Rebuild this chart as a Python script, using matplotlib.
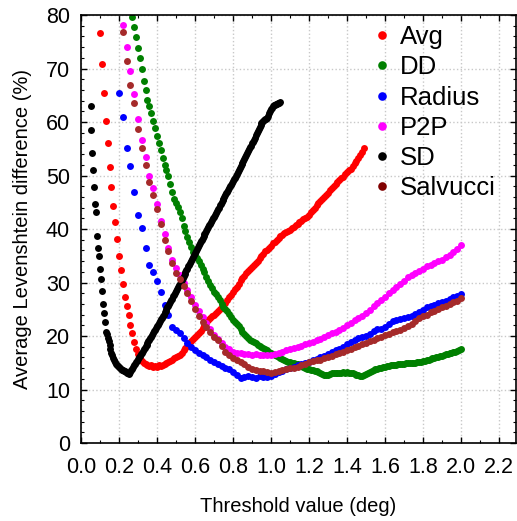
import numpy as np
import matplotlib
matplotlib.use("Agg")
import matplotlib.pyplot as plt
from matplotlib.lines import Line2D
from matplotlib.ticker import MultipleLocator

plt.rcParams['font.family'] = ['Liberation Sans', 'DejaVu Sans']

# Average Levenshtein difference (%) per threshold (deg)
avg_start, avg_step = 0.10, 0.01
avg_y = [76.6, 70.8, 65.5, 60.1, 56.0, 51.6, 47.9, 44.3, 41.3, 38.1,
         35.0, 32.3, 29.7, 27.2, 25.6, 23.9, 22.1, 20.5, 18.9, 17.6,
         16.6, 15.9, 15.4, 15.0, 14.7, 14.6, 14.4, 14.5, 14.3, 14.4,
         14.3, 14.5, 14.4, 14.6, 14.8, 15.0, 15.2, 15.4, 15.6, 15.8,
         16.0, 16.2, 16.5, 16.9, 17.3, 17.7, 18.1, 18.6, 19.0, 19.4,
         19.8, 20.2, 20.6, 21.0, 21.5, 22.0, 22.5, 23.0, 23.4, 23.7,
         24.0, 24.3, 24.6, 25.0, 25.4, 25.8, 26.2, 26.7, 27.2, 27.7,
         28.2, 28.7, 29.2, 29.8, 30.4, 30.9, 31.3, 31.7, 32.1, 32.5,
         32.9, 33.3, 33.7, 34.1, 34.5, 34.9, 35.4, 35.8, 36.1, 36.5,
         36.9, 37.3, 37.6, 37.9, 38.3, 38.6, 38.9, 39.2, 39.4, 39.7,
         39.9, 40.2, 40.4, 40.7, 41.0, 41.3, 41.5, 41.8, 42.0, 42.3,
         42.7, 43.1, 43.5, 44.0, 44.4, 44.8, 45.3, 45.7, 46.0, 46.4,
         46.8, 47.2, 47.6, 48.0, 48.4, 48.8, 49.1, 49.5, 49.8, 50.2,
         50.6, 51.0, 51.3, 51.8, 52.3, 52.8, 53.3, 53.8, 54.4, 55.1]

dd_start, dd_step = 0.27, 0.01
dd_y = [79.7, 77.7, 75.8, 73.9, 71.9, 69.9, 67.7, 66.0, 64.2, 63.0,
        61.6, 60.1, 58.8, 57.4, 56.0, 54.8, 53.3, 52.0, 51.0, 49.9,
        48.4, 47.0, 45.7, 44.9, 44.1, 43.2, 42.0, 40.6, 39.6, 38.5,
        37.5, 36.6, 35.7, 35.2, 34.6, 34.0, 33.2, 32.6, 32.0, 31.0,
        30.3, 29.6, 28.9, 28.3, 27.8, 27.3, 26.8, 26.0, 25.5, 25.0,
        24.6, 24.2, 23.6, 23.0, 22.6, 22.2, 21.9, 21.4, 20.8, 20.4,
        20.0, 19.6, 19.3, 19.1, 18.9, 18.6, 18.4, 18.2, 18.0, 17.8,
        17.5, 17.3, 17.1, 16.9, 16.7, 16.5, 16.3, 16.1, 15.9, 15.7,
        15.6, 15.4, 15.2, 15.1, 15.0, 14.9, 14.8, 14.7, 14.6, 14.4,
        14.3, 14.1, 13.9, 13.8, 13.7, 13.6, 13.5, 13.4, 13.2, 13.0,
        12.9, 12.8, 12.7, 12.8, 12.9, 13.0, 13.0, 13.1, 13.0, 13.0,
        13.1, 13.2, 13.1, 13.2, 13.1, 13.0, 13.0, 12.9, 12.8, 12.7,
        12.6, 12.6, 12.7, 12.9, 13.1, 13.3, 13.5, 13.6, 13.8, 13.9,
        14.0, 14.1, 14.2, 14.3, 14.4, 14.4, 14.5, 14.5, 14.6, 14.6,
        14.7, 14.7, 14.8, 14.8, 14.9, 14.9, 14.9, 15.0, 14.9, 15.0,
        15.1, 15.1, 15.2, 15.3, 15.4, 15.5, 15.6, 15.7, 15.8, 15.9,
        16.0, 16.1, 16.2, 16.3, 16.5, 16.6, 16.7, 16.8, 16.9, 17.0,
        17.1, 17.2, 17.4, 17.5]

radius_start, radius_step = 0.20, 0.02
radius_y = [65.4, 60.9, 55.1, 51.8, 47.0, 42.6, 40.2, 36.4, 33.3, 32.0,
            30.2, 28.3, 25.8, 23.9, 21.7, 21.2, 20.6, 19.6, 18.6, 17.9,
            17.4, 16.8, 16.4, 16.1, 15.6, 15.2, 14.8, 14.4, 14.1, 13.8,
            13.3, 12.7, 12.1, 12.3, 12.6, 12.4, 12.2, 12.5, 12.3, 12.4,
            12.6, 12.9, 13.2, 13.5, 13.8, 14.0, 14.2, 14.5, 14.7, 14.9,
            15.2, 15.5, 15.7, 16.0, 16.3, 16.6, 17.0, 17.3, 17.6, 18.0,
            18.5, 18.9, 19.3, 19.6, 19.8, 20.0, 20.4, 20.9, 21.3, 21.4,
            21.6, 22.3, 22.8, 23.0, 23.2, 23.4, 23.6, 23.8, 24.1, 24.4,
            24.9, 25.4, 25.6, 25.8, 26.1, 26.4, 26.6, 26.9, 27.2, 27.5,
            27.9]

p2p_start, p2p_step = 0.22, 0.02
p2p_y = [78.1, 74.1, 69.6, 65.3, 60.6, 56.6, 53.5, 49.9, 47.6, 44.7,
         41.5, 39.0, 36.5, 34.3, 32.8, 31.4, 30.0, 28.6, 27.2, 25.8,
         24.6, 23.5, 22.4, 21.3, 20.2, 19.5, 18.6, 18.0, 17.5, 17.1,
         16.9, 16.8, 16.7, 16.6, 16.5, 16.6, 16.5, 16.4, 16.5, 16.5,
         16.6, 16.9, 17.1, 17.3, 17.5, 17.8, 18.0, 18.2, 18.5, 18.7,
         18.9, 19.2, 19.5, 19.8, 20.1, 20.5, 20.8, 21.1, 21.5, 22.0,
         22.4, 22.9, 23.4, 23.8, 24.3, 24.9, 25.6, 26.2, 26.7, 27.3,
         28.0, 28.6, 29.2, 29.7, 30.3, 31.0, 31.4, 31.8, 32.2, 32.6,
         33.0, 33.3, 33.7, 34.0, 34.3, 34.7, 35.1, 35.7, 36.3, 37.0]

sd_start, sd_step = 0.05, 0.005
sd_y = [63.0, 58.5, 54.2, 51.0, 47.9, 44.6, 43.1, 38.6, 36.4, 35.0,
        32.6, 30.6, 28.4, 25.9, 24.3, 22.7, 20.8, 20.3, 19.6, 19.0,
        18.3, 17.6, 16.9, 16.4, 15.9, 15.5, 15.1, 14.8, 14.6, 14.4,
        14.2, 14.0, 13.9, 13.7, 13.6, 13.5, 13.4, 13.2, 13.1, 13.0,
        12.9, 13.0, 13.3, 13.6, 13.9, 14.2, 14.5, 14.8, 15.1, 15.4,
        15.7, 16.0, 16.3, 16.6, 16.9, 17.2, 17.5, 17.8, 18.1, 18.4,
        18.7, 19.0, 19.3, 19.6, 19.9, 20.2, 20.6, 20.9, 21.2, 21.5,
        21.8, 22.1, 22.4, 22.8, 23.1, 23.4, 23.7, 24.0, 24.4, 24.7,
        25.0, 25.4, 25.7, 26.0, 26.4, 26.7, 27.0, 27.4, 27.7, 28.1,
        28.4, 28.8, 29.1, 29.5, 29.8, 30.2, 30.5, 30.9, 31.2, 31.6,
        31.9, 32.3, 32.6, 33.0, 33.3, 33.7, 34.1, 34.4, 34.8, 35.2,
        35.5, 35.9, 36.3, 36.6, 37.0, 37.3, 37.7, 38.0, 38.4, 38.7,
        39.0, 39.3, 39.6, 40.0, 40.3, 40.7, 41.0, 41.4, 41.7, 42.0,
        42.3, 42.7, 43.0, 43.4, 43.7, 44.0, 44.4, 44.7, 45.0, 45.4,
        45.7, 46.0, 46.3, 46.7, 47.0, 47.3, 47.6, 48.0, 48.3, 48.6,
        49.0, 49.3, 49.6, 50.0, 50.3, 50.7, 51.0, 51.4, 51.7, 52.1,
        52.4, 52.8, 53.1, 53.5, 53.9, 54.2, 54.6, 54.9, 55.3, 55.6,
        56.0, 56.3, 56.7, 57.1, 57.5, 57.9, 58.3, 58.7, 59.1, 59.5,
        59.8, 60.0, 60.2, 60.3, 60.5, 60.6, 60.8, 61.2, 61.7, 62.1,
        62.5, 62.7, 62.9, 63.1, 63.2, 63.3, 63.4, 63.5, 63.6, 63.7]

salvucci_start, salvucci_step = 0.22, 0.02
salvucci_y = [76.9, 71.4, 67.0, 63.5, 58.7, 55.1, 51.9, 48.8, 46.4, 43.8,
              40.9, 38.0, 35.9, 33.7, 31.7, 30.6, 29.3, 28.0, 26.6, 25.0,
              23.7, 22.6, 21.7, 20.8, 19.8, 19.2, 18.1, 17.0, 16.4, 15.9,
              15.5, 15.2, 14.8, 14.3, 13.9, 13.7, 13.5, 13.4, 13.2, 13.1,
              13.3, 13.5, 13.6, 13.8, 14.0, 14.1, 14.3, 14.5, 14.8, 15.1,
              15.3, 15.5, 15.6, 15.8, 16.0, 16.3, 16.6, 16.8, 17.1, 17.4,
              17.6, 17.9, 18.2, 18.5, 18.7, 19.0, 19.3, 19.7, 19.9, 20.1,
              20.4, 20.8, 21.0, 21.2, 21.5, 21.8, 22.3, 22.8, 23.3, 23.7,
              24.0, 24.4, 24.7, 25.0, 25.4, 25.7, 26.0, 26.3, 26.6, 27.1]

series = [
    ("Avg", avg_start, avg_step, avg_y, "#ff0000", "#ff0000"),
    ("DD", dd_start, dd_step, dd_y, "#008000", "#008000"),
    ("Radius", radius_start, radius_step, radius_y, "#0000ff", "#0000ff"),
    ("P2P", p2p_start, p2p_step, p2p_y, "#ff00ff", "#ff00ff"),
    ("SD", sd_start, sd_step, sd_y, "#000000", "#000000"),
    ("Salvucci", salvucci_start, salvucci_step, salvucci_y, "#a52a2a", "#800000"),
]

fig = plt.figure(figsize=(5.17, 5.21), dpi=100)
ax = fig.add_axes([0.1567, 0.1497, 0.8414, 0.8215])

handles = []
for name, start, step, ys, col, legcol in series:
    xs = start + step * np.arange(len(ys))
    ax.plot(xs, ys, 'o', color=col, markersize=5.0, markeredgewidth=0)
    handles.append(Line2D([], [], marker='o', linestyle='none', color=legcol,
                          markersize=6.2, markeredgewidth=0, label=name))

ax.set_xlim(0, 2.29)
ax.set_ylim(0, 80)
ax.xaxis.set_minor_locator(MultipleLocator(0.1))
ax.yaxis.set_major_locator(MultipleLocator(10))
ax.yaxis.set_minor_locator(MultipleLocator(2))
xt = np.arange(0, 2.21, 0.2)
ax.set_xticks(xt)
ax.set_xticklabels([f"{v:.1f}" for v in xt])
ax.tick_params(which='both', direction='in', top=True, right=True, labelsize=15.5)
ax.tick_params(which='major', length=4, width=1)
ax.tick_params(which='minor', length=2, width=0.8)
ax.tick_params(axis='x', pad=10)
ax.tick_params(axis='y', pad=8)
ax.grid(True, which='major', color='#c8c8c8', linestyle=':', linewidth=1)
ax.set_axisbelow(True)
for sp in ax.spines.values():
    sp.set_linewidth(1.2)

ax.set_xlabel("Threshold value (deg)", fontsize=14.5, labelpad=14)
ax.set_ylabel("Average Levenshtein difference (%)", fontsize=14.5, labelpad=10)

ax.legend(handles=handles, loc='upper left', bbox_to_anchor=(0.662, 0.976),
          frameon=False, fontsize=18.5, handletextpad=0.2, handlelength=1.0,
          labelspacing=0.24, borderpad=0, borderaxespad=0)

fig.savefig("out.png", dpi=100)
